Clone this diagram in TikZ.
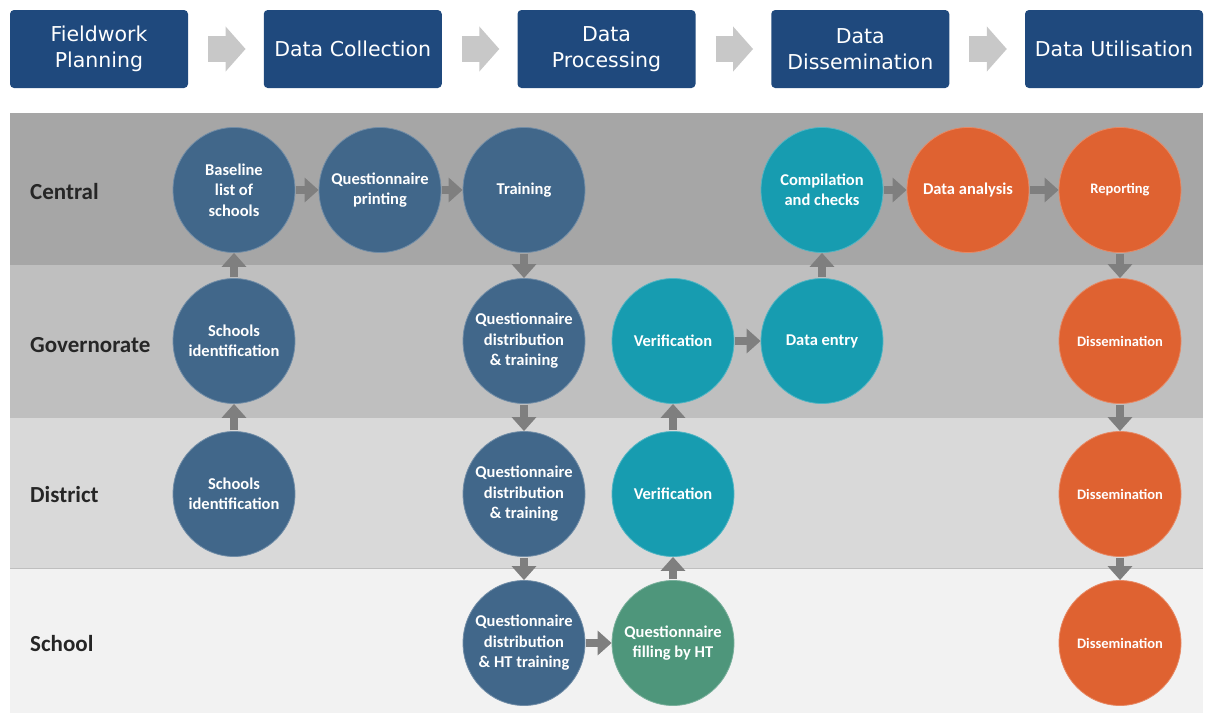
\documentclass[tikz,border=0pt]{standalone}
\usepackage{fontspec}
\setmainfont{Carlito}
\newfontfamily\titlefont{DejaVu Sans}
\usetikzlibrary{arrows.meta,shapes.geometric}

\definecolor{titleblue}{HTML}{1F497D}
\definecolor{procblue}{HTML}{41678A}
\definecolor{procteal}{HTML}{179CB0}
\definecolor{procgreen}{HTML}{4E967B}
\definecolor{procorange}{HTML}{DF6231}
\definecolor{arrowgray}{HTML}{7F7F7F}
\definecolor{phasegray}{HTML}{C8C8C8}
\definecolor{laneA}{HTML}{A6A6A6}
\definecolor{laneB}{HTML}{BFBFBF}
\definecolor{laneC}{HTML}{D9D9D9}
\definecolor{laneD}{HTML}{F2F2F2}

\tikzset{
  phase/.style={fill=titleblue, rounded corners=4pt, minimum width=178pt,
    minimum height=78pt, inner sep=0pt, text=white, align=center,
    font=\titlefont\fontsize{20.5}{26}\selectfont},
  phasearrow/.style={draw=phasegray, line width=26pt,
    -{Triangle[length=20pt,width=44pt]}, shorten <=20pt, shorten >=18pt},
  lanelbl/.style={anchor=west, inner sep=0pt, text=black!85,
    font=\bfseries\fontsize{23}{28}\selectfont},
  proc/.style={ellipse, minimum width=122pt, minimum height=125pt,
    inner sep=-20pt, text=white, align=center, line width=0.8pt,
    font=\bfseries\fontsize{16.5}{20.5}\selectfont},
  pblue/.style={proc, fill=procblue, draw=procblue!75!white},
  pteal/.style={proc, fill=procteal, draw=procteal!75!white},
  pgreen/.style={proc, fill=procgreen, draw=procgreen!75!white},
  porange/.style={proc, fill=procorange, draw=procorange!75!white},
  psmall/.style={font=\bfseries\fontsize{14.5}{18}\selectfont},
  flow/.style={draw=arrowgray, line width=8pt,
    -{Triangle[length=14pt,width=24pt]}, shorten <=1pt},
}

\begin{document}
\begin{tikzpicture}[x=1pt,y=-1pt]

  \useasboundingbox (0,0) rectangle (1205,713);

  % Colonnes (x) et lignes (y) des étapes
  \pgfmathsetmacro{\colA}{234}
  \pgfmathsetmacro{\colB}{380}
  \pgfmathsetmacro{\colC}{524}
  \pgfmathsetmacro{\colD}{673}
  \pgfmathsetmacro{\colE}{822}
  \pgfmathsetmacro{\colF}{968}
  \pgfmathsetmacro{\colG}{1120}
  \pgfmathsetmacro{\rowA}{190}
  \pgfmathsetmacro{\rowB}{341}
  \pgfmathsetmacro{\rowC}{494}
  \pgfmathsetmacro{\rowD}{643}

  % Bandeau des phases
  \foreach \i/\txt in {1/{Fieldwork\\Planning}, 2/{Data Collection},
      3/{Data\\Processing}, 4/{Data\\Dissemination}, 5/{Data Utilisation}}{
    \node[phase] (ph\i) at ({99+253.75*(\i-1)},49) {\txt};
  }
  \foreach \a/\b in {1/2,2/3,3/4,4/5}{
    \draw[phasearrow] (ph\a) -- (ph\b);
  }

  % Couloirs (niveaux)
  \foreach \lane/\ya/\yb/\col/\ly in {Central/113/265/laneA/192,
      Governorate/265/418/laneB/345, District/418/568/laneC/495,
      School/568/713/laneD/644}{
    \fill[\col] (10,\ya) rectangle (1203,\yb);
    \node[lanelbl] (lane\lane) at (30,\ly) {\lane};
  }
  \draw[white!75!black, line width=0.8pt] (10,568) -- (1203,568);

  % ---- Etapes ----
  % Central
  \node[pblue] (baseline) at (\colA,\rowA) {Baseline\\list of\\schools};
  \node[pblue] (printing) at (\colB,\rowA) {Questionnaire\\printing};
  \node[pblue] (training) at (\colC,\rowA) {Training};
  \node[pteal] (compil) at (\colE,\rowA) {Compilation\\and checks};
  \node[porange] (analysis) at (\colF,\rowA) {Data analysis};
  \node[porange, psmall] (reporting) at (\colG,\rowA) {Reporting};

  % Governorate
  \node[pblue] (govident) at (\colA,\rowB) {Schools\\identification};
  \node[pblue] (govdistr) at (\colC,\rowB) {Questionnaire\\distribution\\\& training};
  \node[pteal] (govverif) at (\colD,\rowB) {Verification};
  \node[pteal] (entry) at (\colE,\rowB) {Data entry};
  \node[porange, psmall] (govdiss) at (\colG,\rowB) {Dissemination};

  % District
  \node[pblue] (distident) at (\colA,\rowC) {Schools\\identification};
  \node[pblue] (distdistr) at (\colC,\rowC) {Questionnaire\\distribution\\\& training};
  \node[pteal] (distverif) at (\colD,\rowC) {Verification};
  \node[porange, psmall] (distdiss) at (\colG,\rowC) {Dissemination};

  % School
  \node[pblue] (schooldistr) at (\colC,\rowD) {Questionnaire\\distribution\\\& HT training};
  \node[pgreen] (filling) at (\colD,\rowD) {Questionnaire\\filling by HT};
  \node[porange, psmall] (schooldiss) at (\colG,\rowD) {Dissemination};

  % ---- Flèches ----
  \draw[flow] (distident) -- (govident);
  \draw[flow] (govident) -- (baseline);
  \draw[flow] (baseline) -- (printing);
  \draw[flow] (printing) -- (training);
  \draw[flow] (training) -- (govdistr);
  \draw[flow] (govdistr) -- (distdistr);
  \draw[flow] (distdistr) -- (schooldistr);
  \draw[flow] (schooldistr) -- (filling);
  \draw[flow] (filling) -- (distverif);
  \draw[flow] (distverif) -- (govverif);
  \draw[flow] (govverif) -- (entry);
  \draw[flow] (entry) -- (compil);
  \draw[flow] (compil) -- (analysis);
  \draw[flow] (analysis) -- (reporting);
  \draw[flow] (reporting) -- (govdiss);
  \draw[flow] (govdiss) -- (distdiss);
  \draw[flow] (distdiss) -- (schooldiss);

\end{tikzpicture}
\end{document}
